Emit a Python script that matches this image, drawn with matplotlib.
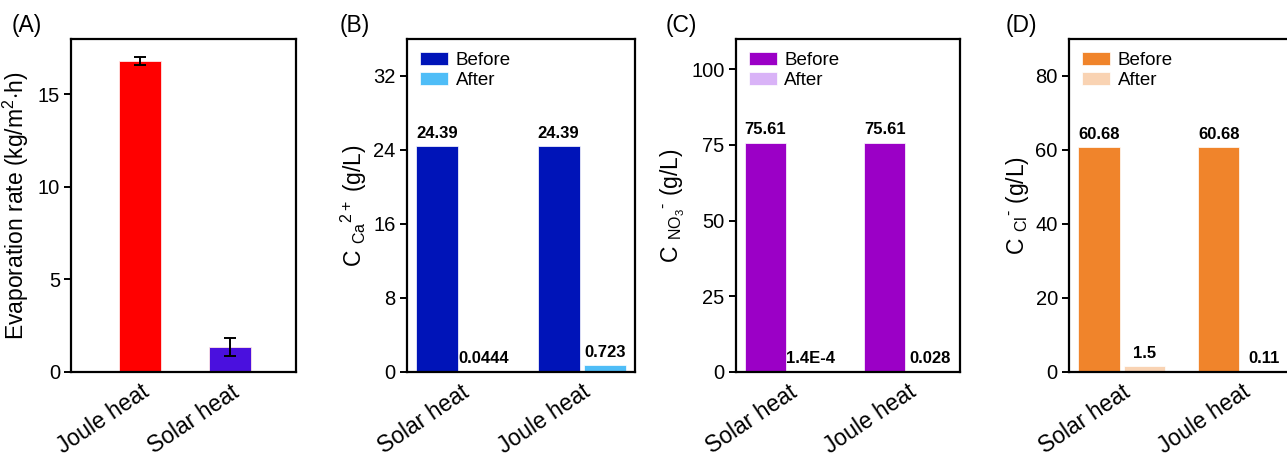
import numpy as np
import matplotlib
matplotlib.use("Agg")
import matplotlib.pyplot as plt

# ==========================================================
# DATA
# ==========================================================

evap_labels = ["Joule heat", "Solar heat"]
evap_rate = [16.8, 1.35]
evap_err = [0.2, 0.5]

groups = ["Solar heat", "Joule heat"]

ca_before = [24.39, 24.39]
ca_after = [0.0444, 0.723]
ca_before_txt = ["24.39", "24.39"]
ca_after_txt = ["0.0444", "0.723"]

no3_before = [75.61, 75.61]
no3_after = [1.4e-4, 0.028]
no3_before_txt = ["75.61", "75.61"]
no3_after_txt = ["1.4E-4", "0.028"]

cl_before = [60.68, 60.68]
cl_after = [1.5, 0.11]
cl_before_txt = ["60.68", "60.68"]
cl_after_txt = ["1.5", "0.11"]

# ==========================================================
# STYLE
# ==========================================================

plt.rcParams["font.family"] = "Liberation Sans"
plt.rcParams["mathtext.fontset"] = "custom"
plt.rcParams["mathtext.rm"] = "Liberation Sans"
plt.rcParams["mathtext.it"] = "Liberation Sans"
plt.rcParams["axes.linewidth"] = 1.6

fig = plt.figure(figsize=(12.87, 4.58), dpi=100)

H = 0.727
B0 = 0.188
axA = fig.add_axes([0.0552, B0, 0.1748, H])
axB = fig.add_axes([0.3162, B0, 0.1772, H])
axC = fig.add_axes([0.5716, B0, 0.1743, H])
axD = fig.add_axes([0.8306, B0, 0.1750, H])


def style_axis(ax, labels, xpos):
    ax.tick_params(axis="y", direction="out", length=5, width=1.4,
                   labelsize=14.5, pad=3)
    ax.tick_params(axis="x", length=0, labelsize=16.5, pad=6)
    ax.set_xticks(xpos)
    ax.set_xticklabels(labels, rotation=34, ha="right",
                       rotation_mode="anchor")


# ==========================================================
# (A) EVAPORATION
# ==========================================================

xa = np.arange(len(evap_labels))
axA.bar(xa, evap_rate, width=0.47, color=["#ff0000", "#4a10de"],
        edgecolor="#ffe6e6", linewidth=0.6,
        yerr=evap_err, capsize=4,
        error_kw=dict(elinewidth=1.4, capthick=1.4, ecolor="black"))
axA.set_xlim(-0.77, 1.73)
axA.set_ylim(0, 18)
axA.set_yticks([0, 5, 10, 15])
axA.set_ylabel("Evaporation rate (kg/m$^{2}$$\\cdot$h)", fontsize=16.5,
               labelpad=5)
style_axis(axA, evap_labels, xa)

# ==========================================================
# (B)-(D) BEFORE / AFTER
# ==========================================================

panels = [
    (axB, ca_before, ca_after, ca_before_txt, ca_after_txt,
     "#0014b8", "#4fbdf7", 36, [0, 8, 16, 24, 32],
     "C $\\mathregular{_{Ca}{}^{2+}}$ (g/L)"),
    (axC, no3_before, no3_after, no3_before_txt, no3_after_txt,
     "#9b00c6", "#d9b3f7", 110, [0, 25, 50, 75, 100],
     "C $\\mathregular{_{NO_3}{}^{\u2010}}$ (g/L)"),
    (axD, cl_before, cl_after, cl_before_txt, cl_after_txt,
     "#f0842b", "#f9d3b3", 90, [0, 20, 40, 60, 80],
     "C $\\mathregular{_{Cl}{}^{\u2010}}$ (g/L)"),
]

xg = np.arange(len(groups))
w = 0.345
off = 0.19

for ax, bef, aft, bt, at, c1, c2, ymax, yt, ylab in panels:
    b1 = ax.bar(xg - off, bef, width=w, color=c1, label="Before",
                edgecolor="white", linewidth=0.5)
    b2 = ax.bar(xg + off, aft, width=w, color=c2, label="After",
                edgecolor="white", linewidth=0.5)
    for rect, txt in zip(b1, bt):
        ax.annotate(txt, (rect.get_x() + rect.get_width() / 2,
                          rect.get_height()),
                    xytext=(0, 4), textcoords="offset points",
                    ha="center", va="bottom", fontsize=12,
                    fontweight="bold")
    for rect, txt in zip(b2, at):
        ax.annotate(txt, (rect.get_x() + rect.get_width() / 2,
                          rect.get_height()),
                    xytext=(0, 4), textcoords="offset points",
                    ha="center", va="bottom", fontsize=12,
                    fontweight="bold")
    ax.set_xlim(-0.44, 1.44)
    ax.set_ylim(0, ymax)
    ax.set_yticks(yt)
    ax.set_ylabel(ylab, fontsize=16.5, labelpad=3)
    style_axis(ax, groups, xg)
    ax.legend(loc="upper left", frameon=False, fontsize=13.5,
              handlelength=1.5, handleheight=0.7, handletextpad=0.4,
              labelspacing=0.15, borderaxespad=0.3)

# ==========================================================
# PANEL LABELS
# ==========================================================

for x, t in zip([0.009, 0.264, 0.517, 0.781], ["(A)", "(B)", "(C)", "(D)"]):
    fig.text(x, 0.945, t, fontsize=16.5, ha="left", va="center")

fig.savefig("out.png", dpi=100)
